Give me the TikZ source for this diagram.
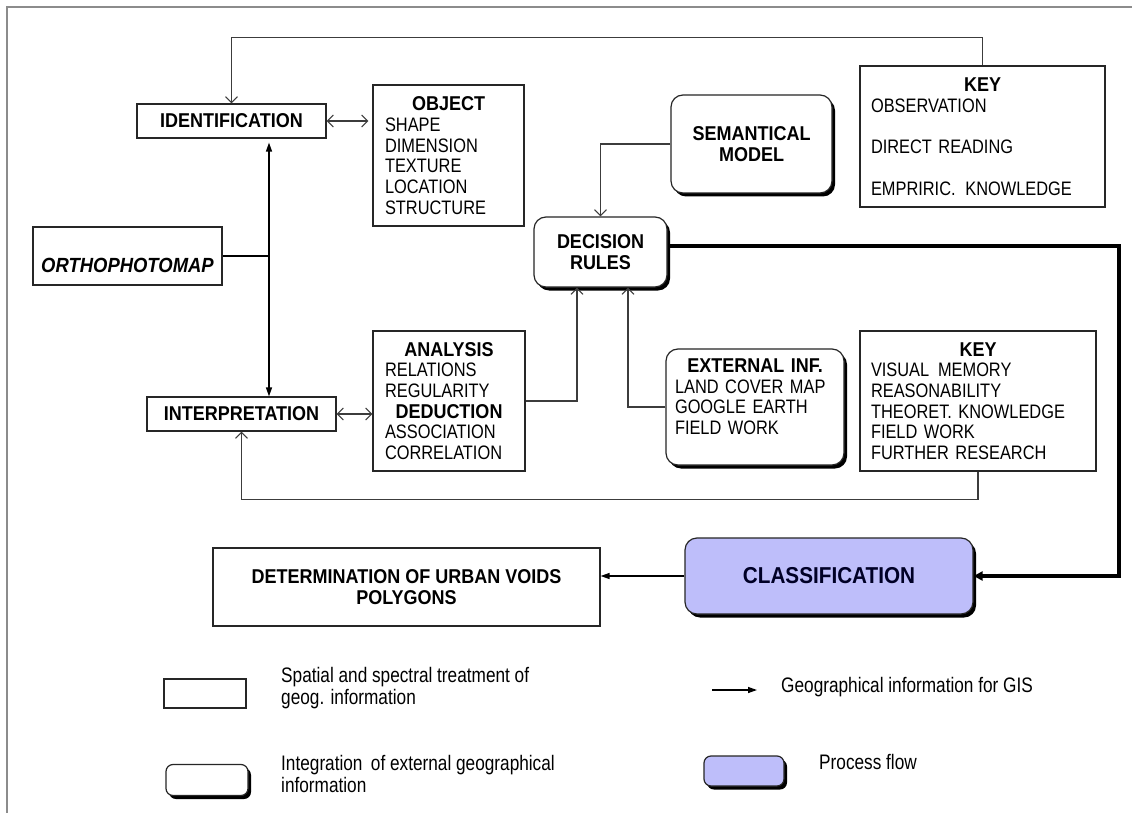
\documentclass[tikz,border=0pt]{standalone}
\usepackage{fontspec}
\setmainfont{Liberation Sans}[FakeStretch=0.9]
\newfontfamily\listfam{Liberation Sans}[FakeStretch=0.84]
\newfontfamily\narrowfam{Liberation Sans}[FakeStretch=0.82]
\usetikzlibrary{arrows.meta,shadows}
\definecolor{lav}{RGB}{190,190,250}
\definecolor{framecol}{RGB}{140,140,140}
\definecolor{lncol}{RGB}{60,60,60}
\newcommand\rgf{\listfam\fontsize{19.5}{20.7}\selectfont}
\newcommand\bgf{\rmfamily\fontsize{20}{20.7}\selectfont\bfseries}
\newcommand\hd[1]{\hfill{\bgf #1}\hfill\null}
\tikzset{
  box/.style={draw=black!85, line width=1.2pt, inner sep=0pt, font=\rgf, fill=white},
  rbox/.style={box, rounded corners=12pt, drop shadow={shadow xshift=3pt, shadow yshift=-3.5pt, fill=black, opacity=1}},
  ln/.style={draw=lncol, line width=1.1pt},
  barb/.style={ln, -{Straight Barb[length=6pt,width=12pt,line width=1pt]}},
  dbarb/.style={ln, {Straight Barb[length=6pt,width=12pt,line width=1pt]}-{Straight Barb[length=6pt,width=12pt,line width=1pt]}},
  tri/.style={draw=black, line width=1.3pt, -{Triangle[length=9pt,width=6pt]}},
  thickln/.style={draw=black, line width=3.2pt, -{Triangle[length=9pt,width=9pt]}},
  lgt/.style={inner sep=0pt, align=left, font=\narrowfam\fontsize{21}{22}\selectfont},
}
\begin{document}
\begin{tikzpicture}[x=1pt,y=-1pt]
\fill[white] (0,0) rectangle (1132,813);
\useasboundingbox (0,0) rectangle (1132,813);
\draw[framecol, line width=1.5pt] (7,813) -- (7,7) -- (1132,7);

% main boxes
\node[box, minimum width=189pt, minimum height=34pt, font=\bgf] (ident) at (231.5,121) {IDENTIFICATION};
\node[box, minimum width=151pt, minimum height=141pt, text width=127pt, align=left] (obj) at (448.5,155.5)
  {\hd{OBJECT}\\SHAPE\\DIMENSION\\TEXTURE\\LOCATION\\STRUCTURE};
\node[box, minimum width=189pt, minimum height=58pt, font=\fontsize{20.5}{22}\selectfont\bfseries\itshape] (ortho) at (127.5,256)
  {\raisebox{-16pt}[0pt][0pt]{ORTHOPHOTOMAP}};
\node[box, minimum width=189pt, minimum height=34pt, font=\bgf] (interp) at (241.5,414) {INTERPRETATION};
\node[box, minimum width=152pt, minimum height=140pt, text width=128pt, align=left] (ana) at (449,401)
  {\hd{ANALYSIS}\\RELATIONS\\REGULARITY\\\hd{DEDUCTION}\\ASSOCIATION\\CORRELATION};
\node[rbox, minimum width=161pt, minimum height=98pt, align=center, font=\bgf] (sem) at (751.5,144) {SEMANTICAL\\MODEL};
\node[rbox, minimum width=133pt, minimum height=70pt, align=center, font=\bgf] (dec) at (600.5,252) {DECISION\\RULES};
\node[box, minimum width=245pt, minimum height=141pt, text width=223pt, align=left] (key1) at (982.5,136.5)
  {\hd{KEY}\\OBSERVATION\\[20.7pt]DIRECT READING\\[20.7pt]EMPRIRIC.\hspace{0.5em}KNOWLEDGE};
\node[rbox, minimum width=178pt, minimum height=116pt, text width=160pt, align=left] (ext) at (755,407)
  {\hd{EXTERNAL INF.}\\LAND COVER MAP\\GOOGLE EARTH\\FIELD WORK\\\mbox{}};
\node[box, minimum width=236pt, minimum height=140pt, text width=214pt, align=left] (key2) at (978,401)
  {\hd{KEY}\\VISUAL\hspace{0.45em}MEMORY\\REASONABILITY\\THEORET. KNOWLEDGE\\FIELD WORK\\FURTHER RESEARCH};
\node[box, minimum width=387pt, minimum height=78pt, align=center, font=\bgf] (det) at (406.5,587)
  {DETERMINATION OF URBAN VOIDS\\POLYGONS};
\node[rbox, fill=lav, minimum width=288pt, minimum height=76pt, font=\fontsize{23}{26}\selectfont\bfseries] (cls) at (829,576)
  {\textcolor{black!85!blue}{CLASSIFICATION}};

% connectors
\draw[barb] (key1.north) -- ++(0,-28) -| (ident.north);
\draw[dbarb, shorten >=4pt] (ident.east) -- (ident.east -| obj.west);
\coordinate (j1) at (269,256);
\draw[ln, line width=1.3pt, draw=black] (ortho.east) -- (j1);
\draw[tri, shorten >=4pt] (j1) -- (ident.south -| j1);
\draw[tri] (j1) -- (interp.north -| j1);
\draw[dbarb] (interp.east) -- (interp.east -| ana.west);
\draw[barb] (ana.east) -| ([xshift=-23.5pt]dec.south);
\draw[barb] (ext.west) -| ([xshift=27.5pt]dec.south);
\draw[barb] (sem.west) -| (dec.north);
\draw[barb] (key2.south) -- ++(0,28) -| (interp.south);
\coordinate (tc) at (1119,246);
\draw[thickln] ([yshift=6pt]dec.east) -- (tc) |- (cls.east);
\draw[tri] (cls.west) -- (cls.west -| det.east);

% legend
\node[box, line width=1.6pt, minimum width=82pt, minimum height=29pt] (lg1) at (205,693.5) {};
\node[lgt, anchor=west] (lt1) at (281,688) {Spatial and spectral treatment of\\geog. information};
\node[rbox, minimum width=82pt, minimum height=31pt, rounded corners=7pt] (lg2) at (207,780) {};
\node[lgt, anchor=west] (lt2) at (281,773.5) {Integration\hspace{0.4em}of external geographical\\information};
\coordinate (la1) at (712,690);
\coordinate (la2) at (757,690);
\draw[tri] (la1) -- (la2);
\node[lgt, anchor=west] (lt3) at (781,687) {Geographical information for GIS};
\node[rbox, fill=lav, minimum width=80pt, minimum height=30pt, rounded corners=7pt] (lg4) at (744,771) {};
\node[lgt, anchor=west] (lt4) at (819,762) {Process flow};
\end{tikzpicture}
\end{document}
